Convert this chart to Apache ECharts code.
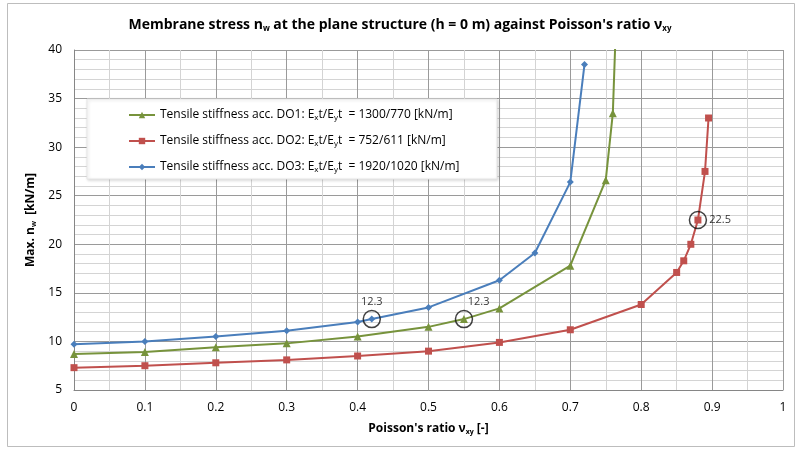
<!DOCTYPE html>
<html style="height: 100%">
<head>
    <meta charset="utf-8">
    <title>Membrane stress</title>
</head>
<body style="height: 100%; margin: 0; background: #fff">
    <div id="chart" style="width: 800px; height: 453px;"></div>

    <script src="https://cdn.jsdelivr.net/npm/echarts@6/dist/echarts.min.js"></script>
    <script type="text/javascript">
    // values
    var do1X = [0, 0.1, 0.2, 0.3, 0.4, 0.5, 0.55, 0.6, 0.7, 0.75, 0.76, 0.765];
    var do1Y = [8.7, 8.9, 9.4, 9.8, 10.5, 11.5, 12.3, 13.4, 17.8, 26.6, 33.5, 44];
    var do2X = [0, 0.1, 0.2, 0.3, 0.4, 0.5, 0.6, 0.7, 0.8, 0.85, 0.86, 0.87, 0.88, 0.89, 0.895];
    var do2Y = [7.3, 7.5, 7.8, 8.1, 8.5, 9.0, 9.9, 11.2, 13.8, 17.1, 18.3, 20.0, 22.5, 27.5, 33.0];
    var do3X = [0, 0.1, 0.2, 0.3, 0.4, 0.42, 0.5, 0.6, 0.65, 0.7, 0.72];
    var do3Y = [9.7, 10.0, 10.5, 11.1, 12.0, 12.3, 13.5, 16.3, 19.1, 26.4, 38.5];
    var markX = [0.42, 0.55, 0.88];
    var markY = [12.3, 12.3, 22.5];
    var names = [
        'Tensile stiffness acc. DO1: E{sub|x}t/E{sub|y}t  = 1300/770 [kN/m]',
        'Tensile stiffness acc. DO2: E{sub|x}t/E{sub|y}t  = 752/611 [kN/m]',
        'Tensile stiffness acc. DO3: E{sub|x}t/E{sub|y}t  = 1920/1020 [kN/m]'
    ];

    function pairs(xs, ys) {
        var out = [];
        for (var i = 0; i < xs.length; i++) {
            out.push([xs[i], ys[i]]);
        }
        return out;
    }

    var font = 'Open Sans';
    var subRich = { sub: { fontSize: 8, verticalAlign: 'bottom', padding: [6, 0, 0, 0], fontFamily: font, color: '#000' } };

    var markData = [];
    var markPos = [['-2', -16], [13, -13], 'right'];
    markPos[0] = 'top';
    for (var i = 0; i < markX.length; i++) {
        markData.push({
            value: [markX[i], markY[i]],
            label: { show: true, position: markPos[i], formatter: String(markY[i]) }
        });
    }

    var option = {
        backgroundColor: '#fff',
        animation: false,
        title: {
            text: 'Membrane stress n{s|w} at the plane structure (h = 0 m) against Poisson\'s ratio ν{s|xy}',
            left: 'center',
            top: 12,
            textStyle: {
                fontFamily: font,
                fontSize: 14,
                fontWeight: 'bold',
                color: '#000',
                rich: {
                    s: { fontSize: 8, fontWeight: 'bold', verticalAlign: 'bottom', padding: [8, 0, 0, 0], fontFamily: font }
                }
            }
        },
        grid: { left: 74, right: 17, top: 50, bottom: 63 },
        graphic: [
            {
                type: 'rect',
                shape: { x: 7.5, y: 3.5, width: 787, height: 443 },
                style: { fill: 'none', stroke: '#bdbdbd', lineWidth: 1 },
                z: 0
            },
            {
                type: 'rect',
                shape: { x: 87, y: 99, width: 410, height: 80 },
                style: { fill: '#fff', stroke: '#e6e6e6', lineWidth: 1, shadowBlur: 3, shadowColor: 'rgba(0,0,0,0.15)', shadowOffsetX: 1, shadowOffsetY: 1 },
                z: 3
            }
        ],
        legend: {
            orient: 'vertical',
            left: 123,
            top: 104,
            itemGap: 13,
            itemWidth: 26,
            itemHeight: 8,
            z: 5,
            data: names,
            formatter: function (n) { return n; },
            textStyle: { fontFamily: font, fontSize: 12, color: '#000', rich: subRich }
        },
        xAxis: {
            type: 'value',
            min: 0,
            max: 1,
            interval: 0.1,
            name: 'Poisson\'s ratio ν{s|xy} [-]',
            nameLocation: 'middle',
            nameGap: 32,
            nameTextStyle: {
                fontFamily: font, fontSize: 12, fontWeight: 'bold', color: '#000',
                rich: { s: { fontSize: 7, fontWeight: 'bold', verticalAlign: 'bottom', padding: [6, 0, 0, 0], fontFamily: font } }
            },
            axisLine: { show: true, lineStyle: { color: '#868686' } },
            axisTick: { show: false },
            axisLabel: { fontFamily: font, fontSize: 12, color: '#000', margin: 12 },
            splitLine: { show: true, lineStyle: { color: '#9a9a9a', width: 1 } },
            minorTick: { show: false, splitNumber: 2 },
            minorSplitLine: { show: true, lineStyle: { color: '#d4d4d4', width: 1 } }
        },
        yAxis: {
            type: 'value',
            min: 5,
            max: 40,
            interval: 5,
            name: 'Max. n{s|w}  [kN/m]',
            nameLocation: 'middle',
            nameGap: 34,
            nameRotate: 90,
            nameTextStyle: {
                fontFamily: font, fontSize: 12, fontWeight: 'bold', color: '#000',
                rich: { s: { fontSize: 7, fontWeight: 'bold', verticalAlign: 'bottom', padding: [6, 0, 0, 0], fontFamily: font } }
            },
            axisLine: { show: true, lineStyle: { color: '#868686' } },
            axisTick: { show: false },
            axisLabel: { fontFamily: font, fontSize: 12, color: '#000', margin: 12 },
            splitLine: { show: true, lineStyle: { color: '#9a9a9a', width: 1 } },
            minorTick: { show: false, splitNumber: 5 },
            minorSplitLine: { show: true, lineStyle: { color: '#d4d4d4', width: 1 } }
        },
        series: [
            {
                name: names[0],
                type: 'line',
                data: pairs(do1X, do1Y),
                symbol: 'triangle',
                symbolSize: 8,
                showAllSymbol: true,
                itemStyle: { color: '#77933C' },
                lineStyle: { width: 2, color: '#77933C' },
                z: 2
            },
            {
                name: names[1],
                type: 'line',
                data: pairs(do2X, do2Y),
                symbol: 'rect',
                symbolSize: 7,
                itemStyle: { color: '#C0504D' },
                lineStyle: { width: 2, color: '#C0504D' },
                z: 2
            },
            {
                name: names[2],
                type: 'line',
                data: pairs(do3X, do3Y),
                symbol: 'diamond',
                symbolSize: 7,
                itemStyle: { color: '#4A7EBB' },
                lineStyle: { width: 2, color: '#4A7EBB' },
                z: 2
            },
            {
                name: 'marks',
                type: 'scatter',
                data: markData,
                symbol: 'circle',
                symbolSize: 17,
                itemStyle: { color: 'rgba(0,0,0,0)', borderColor: '#111', borderWidth: 1.5 },
                label: { fontFamily: font, fontSize: 11, color: '#000', distance: 2 },
                z: 6
            }
        ]
    };

    var myChart = echarts.init(document.getElementById('chart'));
    myChart.setOption(option);
    </script>
</body>
</html>
